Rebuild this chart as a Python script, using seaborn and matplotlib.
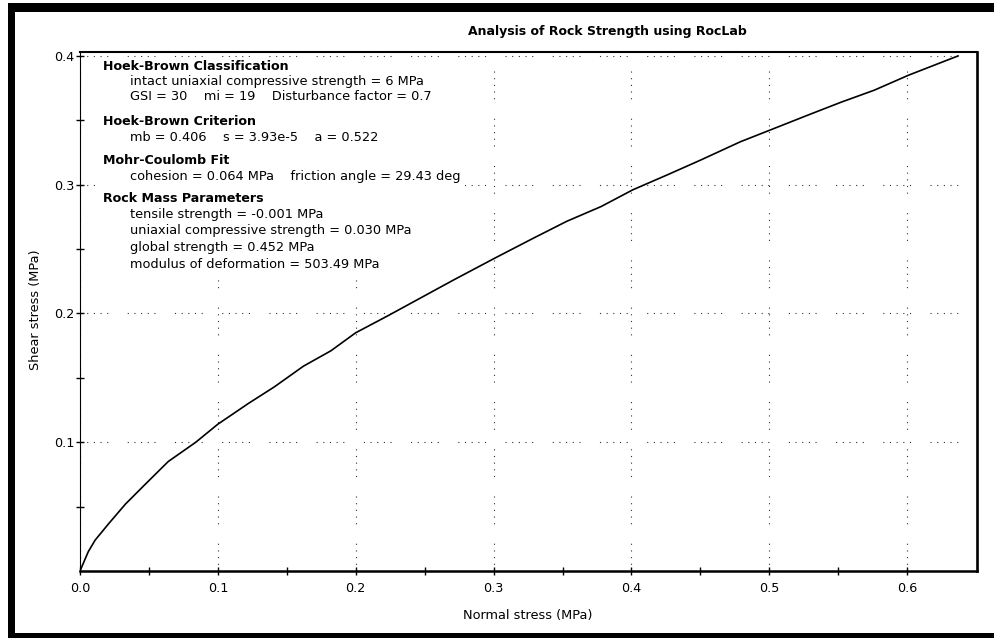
import matplotlib
matplotlib.use("Agg")
import matplotlib.pyplot as plt
from matplotlib.patches import Rectangle
from matplotlib.ticker import FixedLocator
import seaborn as sns
import pandas as pd

# Hoek-Brown failure envelope in Mohr space
normal_stress = [0.0, 0.006, 0.011, 0.021, 0.033, 0.047, 0.064, 0.084, 0.100,
                 0.122, 0.141, 0.162, 0.182, 0.200, 0.223, 0.247, 0.271, 0.301,
                 0.329, 0.353, 0.378, 0.401, 0.426, 0.450, 0.479, 0.502, 0.528,
                 0.552, 0.576, 0.601, 0.637]
shear_stress = [0.0, 0.015, 0.024, 0.037, 0.052, 0.067, 0.085, 0.100, 0.114,
                0.130, 0.143, 0.159, 0.171, 0.185, 0.198, 0.212, 0.226, 0.243,
                0.2585, 0.2715, 0.283, 0.296, 0.3076, 0.319, 0.3333, 0.343, 0.354,
                0.364, 0.3733, 0.385, 0.400]

x_ticks = [0.0, 0.1, 0.2, 0.3, 0.4, 0.5, 0.6]
x_tick_labels = ["0.0", "0.1", "0.2", "0.3", "0.4", "0.5", "0.6"]
x_minor_ticks = [0.05, 0.15, 0.25, 0.35, 0.45, 0.55]
y_ticks = [0.1, 0.2, 0.3, 0.4]
y_tick_labels = ["0.1", "0.2", "0.3", "0.4"]
y_minor_ticks = [0.05, 0.15, 0.25, 0.35]

title = "Analysis of Rock Strength using RocLab"
x_label = "Normal stress (MPa)"
y_label = "Shear stress (MPa)"

# Parameter summary: (heading, [detail lines])
summary = [
    ("Hoek-Brown Classification",
     ["intact uniaxial compressive strength = 6 MPa",
      "GSI = 30    mi = 19    Disturbance factor = 0.7"]),
    ("Hoek-Brown Criterion",
     ["mb = 0.406    s = 3.93e-5    a = 0.522"]),
    ("Mohr-Coulomb Fit",
     ["cohesion = 0.064 MPa    friction angle = 29.43 deg"]),
    ("Rock Mass Parameters",
     ["tensile strength = -0.001 MPa",
      "uniaxial compressive strength = 0.030 MPa",
      "global strength = 0.452 MPa",
      "modulus of deformation = 503.49 MPa"]),
]

sns.set_style("white")
plt.rcParams["font.family"] = ["DejaVu Sans"]
plt.rcParams["lines.scale_dashes"] = False

TEXT_SIZE = 9.3
HEAD_SIZE = 9.1

W, H = 995, 638
fig = plt.figure(figsize=(W / 100, H / 100), dpi=100)
fig.patch.set_facecolor("white")

def fx(px):
    return px / W

def fy(py):
    return 1 - py / H

ax_l, ax_r, ax_t, ax_b = 80, 977.5, 52, 571
ax = fig.add_axes([fx(ax_l), fy(ax_b), fx(ax_r - ax_l), (ax_b - ax_t) / H])
ax.set_facecolor("white")

df = pd.DataFrame({"sigma_n": normal_stress, "tau": shear_stress})
sns.lineplot(data=df, x="sigma_n", y="tau", ax=ax, color="black",
             linewidth=1.2, sort=False, estimator=None, zorder=3)

ax.set_xlim(0, 0.651)
ax.set_ylim(0, 0.403)

ax.xaxis.set_major_locator(FixedLocator(x_ticks))
ax.set_xticklabels(x_tick_labels)
ax.xaxis.set_minor_locator(FixedLocator(x_minor_ticks))
ax.yaxis.set_major_locator(FixedLocator(y_ticks))
ax.set_yticklabels(y_tick_labels)
ax.yaxis.set_minor_locator(FixedLocator(y_minor_ticks))

ax.tick_params(axis="both", which="both", direction="inout", length=6,
               width=1, color="black", labelsize=9.2, labelcolor="black",
               bottom=True, left=True, top=False, right=False)
ax.tick_params(axis="x", which="major", pad=5)
ax.tick_params(axis="y", which="major", pad=1)

# Dotted grid in small groups of dots
grid_dash = (0, (0.8, 4, 0.8, 4, 0.8, 4, 0.8, 4, 0.8, 14))
ax.set_axisbelow(True)
ax.grid(True, which="major", color="#333333", linewidth=0.8,
        linestyle=grid_dash)

for side, lw in (("left", 0.8), ("bottom", 1.8), ("top", 1.5), ("right", 1.9)):
    ax.spines[side].set_visible(True)
    ax.spines[side].set_color("black")
    ax.spines[side].set_linewidth(lw)

ax.set_xlabel(x_label, fontsize=TEXT_SIZE, color="black")
ax.set_ylabel(y_label, fontsize=TEXT_SIZE, color="black")
ax.xaxis.label.set_va("center")
ax.yaxis.label.set_va("center")
ax.xaxis.set_label_coords((528 - ax_l) / (ax_r - ax_l), (ax_b - 615) / (ax_b - ax_t))
ax.yaxis.set_label_coords((36 - ax_l) / (ax_r - ax_l), (ax_b - 310) / (ax_b - ax_t))

# White panel behind the parameter summary
box_x0, box_x1, box_y0, box_y1 = 97, 465, 59, 277
ax.add_patch(Rectangle(((box_x0 - ax_l) / (ax_r - ax_l), (ax_b - box_y1) / (ax_b - ax_t)),
                       (box_x1 - box_x0) / (ax_r - ax_l), (box_y1 - box_y0) / (ax_b - ax_t),
                       transform=ax.transAxes, facecolor="white", edgecolor="none",
                       zorder=1.5))

heading_x, detail_x = 103, 130
line_rows = [[66.7, 81.7, 96.5], [121.7, 137.5], [160, 176.5],
             [198.3, 214.5, 231, 248, 264.5]]
for (heading, details), rows in zip(summary, line_rows):
    fig.text(fx(heading_x), fy(rows[0]), heading, fontsize=HEAD_SIZE,
             fontweight="bold", ha="left", va="center", color="black")
    for line, row in zip(details, rows[1:]):
        fig.text(fx(detail_x), fy(row), line, fontsize=TEXT_SIZE,
                 ha="left", va="center", color="black")

fig.text(fx(607), fy(32), title, fontsize=9.0, fontweight="bold",
         ha="center", va="center", color="black")

# Heavy black window frame
frame = dict(transform=fig.transFigure, facecolor="black", edgecolor="none")
fig.patches.append(Rectangle((fx(8), fy(11.7)), 1, (11.7 - 3.3) / H, **frame))
fig.patches.append(Rectangle((fx(8), 0), fx(7), fy(3.3), **frame))
fig.patches.append(Rectangle((fx(8), 0), 1, (H - 632.7) / H, **frame))

fig.savefig("out.png", dpi=100, facecolor="white")
